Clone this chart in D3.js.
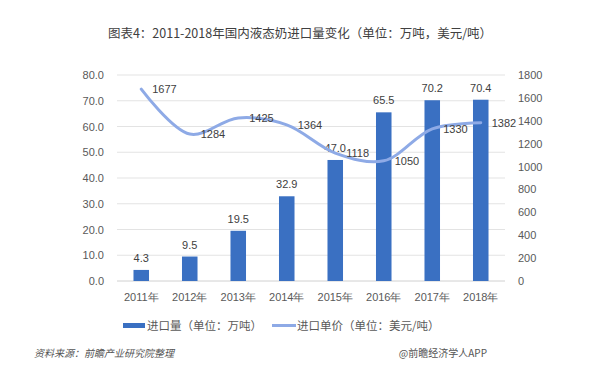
<!DOCTYPE html>
<html><head><meta charset="utf-8">
<script src="https://cdn.jsdelivr.net/npm/d3@7"></script>
<style>body{margin:0;background:#fff;}svg{display:block;font-family:"Noto Sans CJK SC","Microsoft YaHei",sans-serif;}</style>
</head><body><svg id="c" width="600" height="378"></svg>
<script>
const years = ["2011年","2012年","2013年","2014年","2015年","2016年","2017年","2018年"];
const volume = [4.3, 9.5, 19.5, 32.9, 47.0, 65.5, 70.2, 70.4];
const price = [1677, 1284, 1425, 1364, 1118, 1050, 1330, 1382];
const leftTicks = [0,10,20,30,40,50,60,70,80];
const rightTicks = [0,200,400,600,800,1000,1200,1400,1600,1800];
const title = "图表4：2011-2018年国内液态奶进口量变化（单位：万吨，美元/吨）";
const legendBar = "进口量（单位：万吨）";
const legendLine = "进口单价（单位：美元/吨）";
const source = "资料来源：前瞻产业研究院整理";
const credit = "@前瞻经济学人APP";

const svg = d3.select("#c");
const L = 117, R = 505, T = 75, B = 281;
const x = d3.scaleBand().domain(years).range([L, R]).paddingInner(0.68).paddingOuter(0.34);
const yL = d3.scaleLinear().domain([0, 80]).range([B, T]);
const yR = d3.scaleLinear().domain([0, 1800]).range([B, T]);
const txt = "#595959";

svg.append("text").attr("x", 300).attr("y", 38).attr("text-anchor","middle")
  .attr("font-size", 12.5).attr("fill", "#404040").text(title);

// gridlines
svg.append("g").selectAll("line").data(leftTicks).join("line")
  .attr("x1", L).attr("x2", R).attr("y1", d => yL(d)).attr("y2", d => yL(d))
  .attr("stroke", d => d === 0 ? "#d0d0d0" : "#e3e3e3").attr("stroke-width", 1);

// left axis
const gl = svg.append("g").attr("transform", `translate(${L - 10},0)`)
  .call(d3.axisLeft(yL).tickValues(leftTicks).tickFormat(d3.format(".1f")).tickSize(0));
gl.select(".domain").remove();
gl.selectAll("text").attr("font-size", 11).attr("fill", txt).attr("font-family","Liberation Sans, Arial, sans-serif");

// right axis
const gr = svg.append("g").attr("transform", `translate(${R + 10},0)`)
  .call(d3.axisRight(yR).tickValues(rightTicks).tickFormat(d3.format("d")).tickSize(0));
gr.select(".domain").remove();
gr.selectAll("text").attr("font-size", 11).attr("fill", txt).attr("font-family","Liberation Sans, Arial, sans-serif");

// x axis
const gx = svg.append("g").attr("transform", `translate(0,${B + 9})`)
  .call(d3.axisBottom(x).tickSize(0));
gx.select(".domain").remove();
gx.selectAll("text").attr("font-size", 11).attr("fill", txt);

// bars
svg.append("g").selectAll("rect").data(volume).join("rect")
  .attr("x", (d,i) => x(years[i])).attr("width", x.bandwidth())
  .attr("y", d => yL(d)).attr("height", d => B - yL(d)).attr("fill", "#3a70c2");
svg.append("g").selectAll("text").data(volume).join("text")
  .attr("x", (d,i) => x(years[i]) + x.bandwidth()/2).attr("y", d => yL(d) - 8)
  .attr("text-anchor","middle").attr("font-size", 11).attr("fill", "#404040")
  .attr("font-family","Liberation Sans, Arial, sans-serif")
  .text(d => d.toFixed(1));

// line
const cx = i => x(years[i]) + x.bandwidth()/2;
const line = d3.line().x((d,i) => cx(i)).y(d => yR(d)).curve(d3.curveCatmullRom.alpha(0.5));
svg.append("path").datum(price).attr("d", line).attr("fill","none")
  .attr("stroke", "#8eaae6").attr("stroke-width", 3).attr("stroke-linecap","round");
svg.append("g").selectAll("text").data(price).join("text")
  .attr("x", (d,i) => cx(i) + 11).attr("y", d => yR(d) + 4)
  .attr("font-size", 11).attr("fill", "#404040")
  .attr("font-family","Liberation Sans, Arial, sans-serif")
  .text(d => d);

// legend
const lg = svg.append("g");
lg.append("rect").attr("x", 123).attr("y", 323).attr("width", 22).attr("height", 5).attr("fill", "#3a70c2");
lg.append("text").attr("x", 147).attr("y", 330).attr("font-size", 11.5).attr("fill", txt).text(legendBar);
lg.append("line").attr("x1", 272).attr("x2", 296).attr("y1", 325.5).attr("y2", 325.5)
  .attr("stroke", "#8eaae6").attr("stroke-width", 3);
lg.append("text").attr("x", 297).attr("y", 330).attr("font-size", 11.5).attr("fill", txt).text(legendLine);

// footer
svg.append("text").attr("x", 34).attr("y", 357).attr("font-size", 10).attr("fill", "#555")
  .attr("font-style","italic").text(source);
svg.append("text").attr("x", 487).attr("y", 357).attr("text-anchor","end").attr("font-size", 10)
  .attr("fill", "#555").text(credit);
</script></body></html>
